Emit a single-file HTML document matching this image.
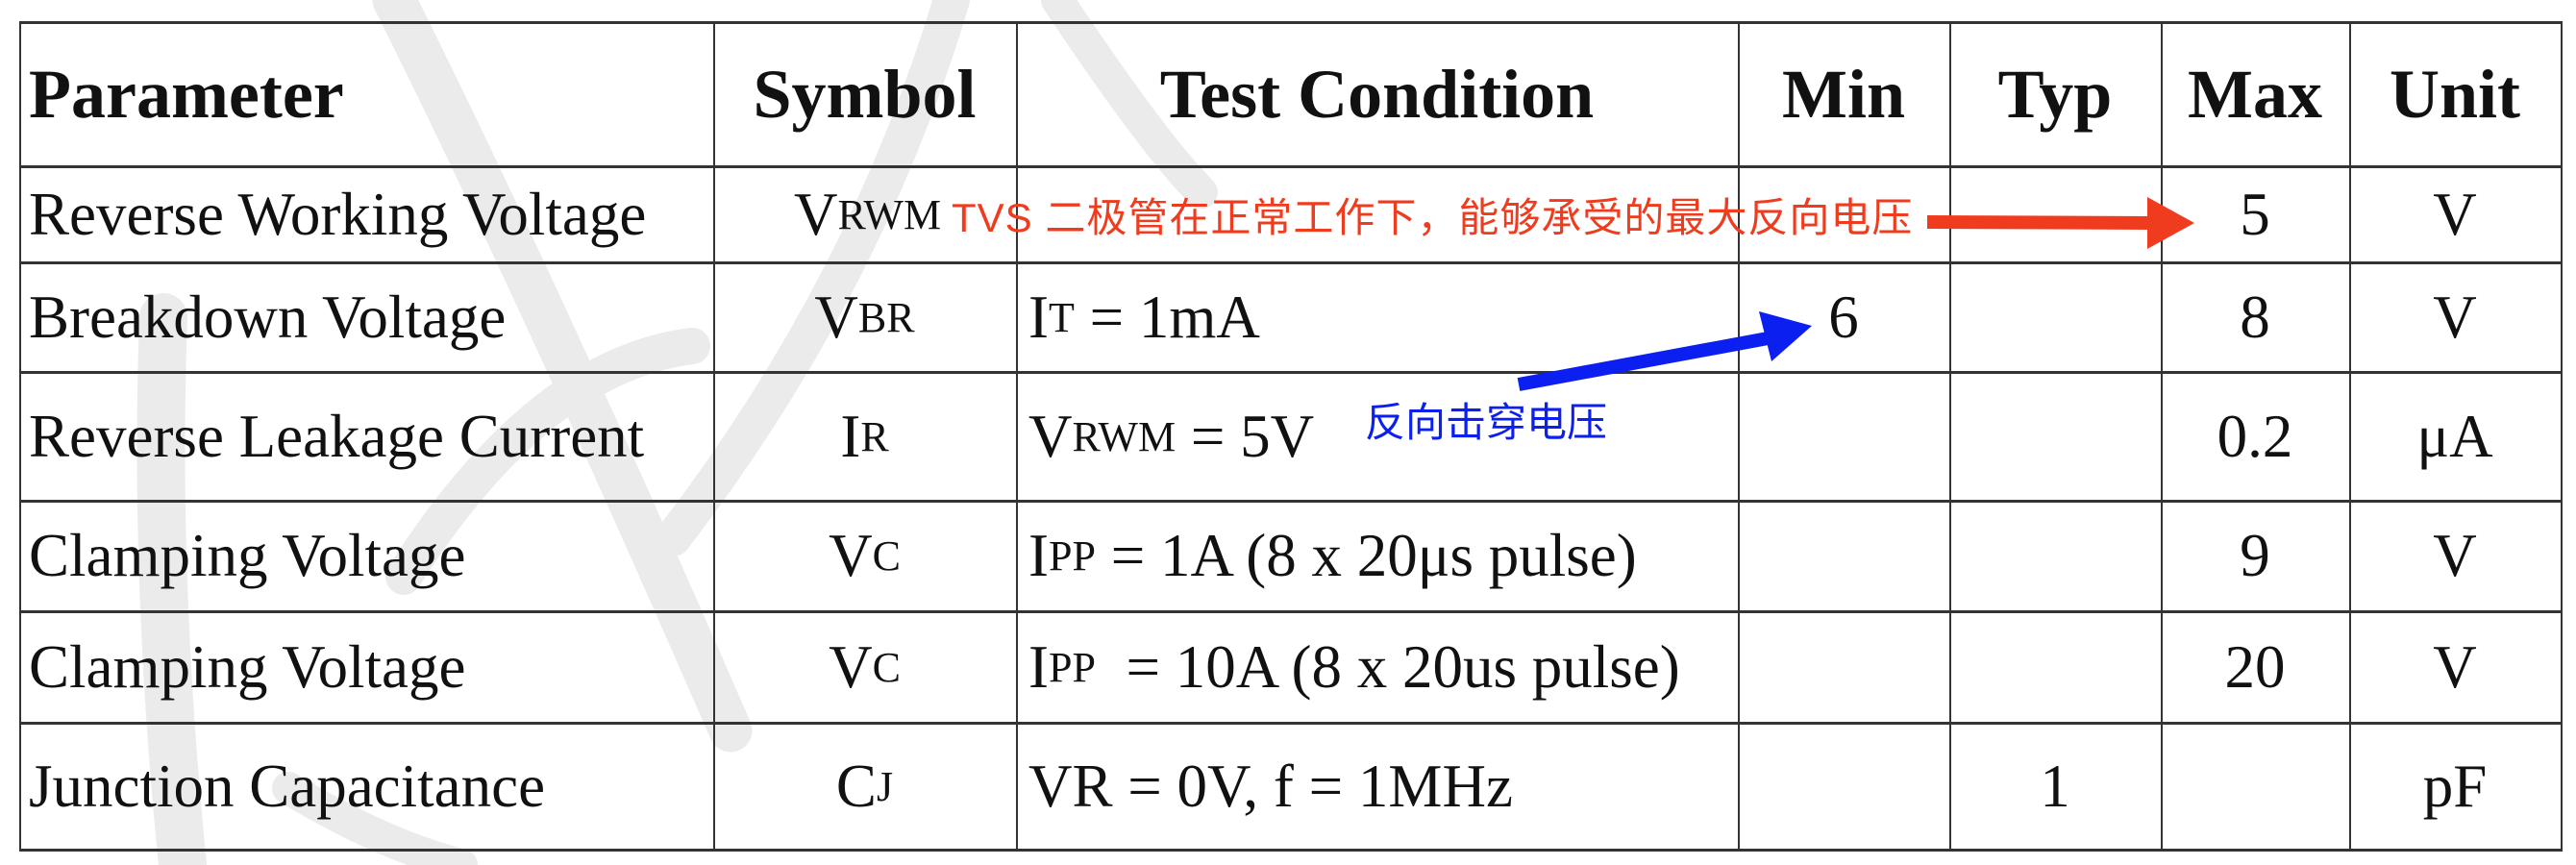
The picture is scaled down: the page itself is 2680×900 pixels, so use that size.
<!DOCTYPE html>
<html><head><meta charset="utf-8"><style>
html,body{margin:0;padding:0;background:#fff;}
#c{position:relative;width:2680px;height:900px;overflow:hidden;background:#fff;font-family:"Liberation Serif",serif;color:#111;}
.h{position:absolute;left:20px;width:2646px;height:3px;background:#333;}
.v{position:absolute;top:23px;height:863px;width:2px;background:#333;}
.t{position:absolute;display:flex;align-items:center;font-size:63px;white-space:nowrap;}
.cc{justify-content:center;}
.b{font-weight:bold;font-size:72px;}
small{font-size:44px;}
</style></head><body><div id="c">
<svg width="2680" height="900" style="position:absolute;left:0;top:0">
<g fill="none" stroke="#ebebeb" stroke-linecap="round">
<path d="M410 0 Q560 300 760 760" stroke-width="45"/>
<path d="M990 0 Q900 300 700 560" stroke-width="38"/>
<path d="M170 330 Q160 600 190 900" stroke-width="50"/>
<path d="M720 360 Q560 380 420 600" stroke-width="38"/>
<path d="M1100 0 Q1200 150 1250 200" stroke-width="34"/>
<path d="M300 820 Q400 880 480 900" stroke-width="34"/>
</g>
</svg>
<div class="h" style="top:22px"></div>
<div class="h" style="top:172px"></div>
<div class="h" style="top:272px"></div>
<div class="h" style="top:386px"></div>
<div class="h" style="top:520px"></div>
<div class="h" style="top:635px"></div>
<div class="h" style="top:751px"></div>
<div class="h" style="top:883px"></div>
<div class="v" style="left:20px"></div>
<div class="v" style="left:742px"></div>
<div class="v" style="left:1057px"></div>
<div class="v" style="left:1808px"></div>
<div class="v" style="left:2028px"></div>
<div class="v" style="left:2248px"></div>
<div class="v" style="left:2444px"></div>
<div class="v" style="left:2664px"></div>

<div class="t b" style="left:30px;top:23px;height:150px">Parameter</div>
<div class="t b cc" style="left:742px;width:315px;top:23px;height:150px">Symbol</div>
<div class="t b cc" style="left:1057px;width:751px;top:23px;height:150px">Test Condition</div>
<div class="t b cc" style="left:1808px;width:220px;top:23px;height:150px">Min</div>
<div class="t b cc" style="left:2028px;width:220px;top:23px;height:150px">Typ</div>
<div class="t b cc" style="left:2248px;width:196px;top:23px;height:150px">Max</div>
<div class="t b cc" style="left:2444px;width:220px;top:23px;height:150px">Unit</div>

<div class="t" style="left:30px;top:173px;height:100px">Reverse Working Voltage</div>
<div class="t" style="left:826px;top:173px;height:100px">V<small>RWM</small></div>
<div class="t cc" style="left:2248px;width:196px;top:173px;height:100px">5</div>
<div class="t cc" style="left:2444px;width:220px;top:173px;height:100px">V</div>

<div class="t" style="left:30px;top:273px;height:114px">Breakdown Voltage</div>
<div class="t cc" style="left:742px;width:315px;top:273px;height:114px">V<small>BR</small></div>
<div class="t" style="left:1070px;top:273px;height:114px">I<small>T</small>&nbsp;= 1mA</div>
<div class="t cc" style="left:1808px;width:220px;top:273px;height:114px">6</div>
<div class="t cc" style="left:2248px;width:196px;top:273px;height:114px">8</div>
<div class="t cc" style="left:2444px;width:220px;top:273px;height:114px">V</div>

<div class="t" style="left:30px;top:387px;height:134px">Reverse Leakage Current</div>
<div class="t cc" style="left:742px;width:315px;top:387px;height:134px">I<small>R</small></div>
<div class="t" style="left:1070px;top:387px;height:134px">V<small>RWM</small>&nbsp;= 5V</div>
<div class="t cc" style="left:2248px;width:196px;top:387px;height:134px">0.2</div>
<div class="t cc" style="left:2444px;width:220px;top:387px;height:134px">μA</div>

<div class="t" style="left:30px;top:521px;height:115px">Clamping Voltage</div>
<div class="t cc" style="left:742px;width:315px;top:521px;height:115px">V<small>C</small></div>
<div class="t" style="left:1070px;top:521px;height:115px">I<small>PP</small>&nbsp;= 1A (8 x 20μs pulse)</div>
<div class="t cc" style="left:2248px;width:196px;top:521px;height:115px">9</div>
<div class="t cc" style="left:2444px;width:220px;top:521px;height:115px">V</div>

<div class="t" style="left:30px;top:636px;height:116px">Clamping Voltage</div>
<div class="t cc" style="left:742px;width:315px;top:636px;height:116px">V<small>C</small></div>
<div class="t" style="left:1070px;top:636px;height:116px">I<small>PP</small>&nbsp;&nbsp;= 10A (8 x 20us pulse)</div>
<div class="t cc" style="left:2248px;width:196px;top:636px;height:116px">20</div>
<div class="t cc" style="left:2444px;width:220px;top:636px;height:116px">V</div>

<div class="t" style="left:30px;top:752px;height:132px">Junction Capacitance</div>
<div class="t cc" style="left:742px;width:315px;top:752px;height:132px">C<small>J</small></div>
<div class="t" style="left:1070px;top:752px;height:132px">VR = 0V, f = 1MHz</div>
<div class="t cc" style="left:2028px;width:220px;top:752px;height:132px">1</div>
<div class="t cc" style="left:2444px;width:220px;top:752px;height:132px">pF</div>

<div style="position:absolute;left:990px;top:203px;font-family:'Liberation Sans','Noto Sans CJK SC',sans-serif;font-size:42px;color:#f03c1e;white-space:nowrap;line-height:48px;letter-spacing:1px">TVS 二极管在正常工作下，能够承受的最大反向电压</div>
<div style="position:absolute;left:1420px;top:416px;font-family:'Liberation Sans','Noto Sans CJK SC',sans-serif;font-size:42px;color:#0a1ff0;white-space:nowrap;line-height:48px">反向击穿电压</div>
<svg width="2680" height="900" style="position:absolute;left:0;top:0">
<line x1="2005" y1="231" x2="2240" y2="232" stroke="#f03c1e" stroke-width="14"/>
<polygon points="2234,205 2283,232 2234,259" fill="#f03c1e"/>
<line x1="1580" y1="400" x2="1850" y2="350" stroke="#0a1ff0" stroke-width="14"/>
<polygon points="1830,324 1885,339 1843,376" fill="#0a1ff0"/>
</svg>
</div></body></html>
